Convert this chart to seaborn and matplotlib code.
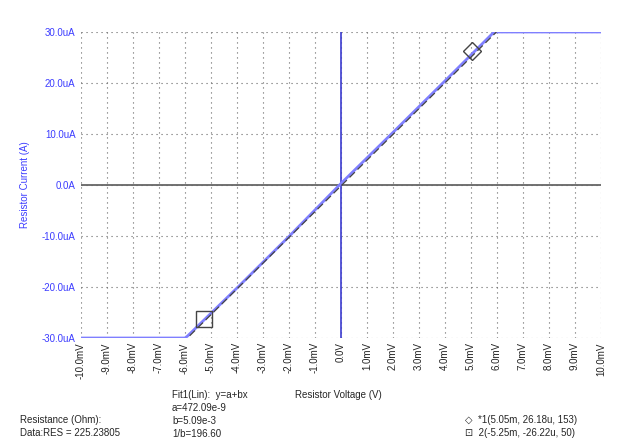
import numpy as np
import pandas as pd
import seaborn as sns
import matplotlib.pyplot as plt

# measured sweep (mV, uA)
volt_mv = [-10.0, -6.0, -5.9, -4.0, -2.0, 0.0, 2.0, 4.0, 5.85, 5.95, 10.0]
curr_ua = [-30.0, -30.0, -29.6, -20.2, -10.1, 0.3, 10.3, 20.4, 29.8, 30.0, 30.0]

# linear fit y = a + b x
fit_a = 472.09e-9
fit_b = 5.09e-3
fit_x_mv = [-5.9, 5.9]

# cursors
cur1 = (5.05, 26.18)
cur2 = (-5.25, -26.22)

xticks = list(range(-10, 11))
yticks = [-30, -20, -10, 0, 10, 20, 30]

sns.set_style("white")
plt.rcParams["font.family"] = ["Liberation Sans", "DejaVu Sans"]

fig = plt.figure(figsize=(6.24, 4.48), dpi=100)
ax = fig.add_axes([0.1298, 0.2455, 0.8332, 0.6831])

for x in xticks:
    ax.axvline(x, color="#666666", lw=0.8, ls=(0, (1, 3.5)), zorder=1)
for y in yticks:
    ax.axhline(y, color="#666666", lw=0.8, ls=(0, (1, 3.5)), zorder=1)
ax.axhline(0, color="#666666", lw=1.3, zorder=2)
ax.axvline(0, color="#3c3cd0", lw=1.2, zorder=2)

df = pd.DataFrame({"V": volt_mv, "I": curr_ua})
sns.lineplot(data=df, x="V", y="I", ax=ax, color="#7f7fff", lw=2.0, zorder=3)

fx = np.array(fit_x_mv)
fy = np.clip((fit_a + fit_b * fx * 1e-3) * 1e6, -30, 30)
ax.plot(fx + 0.08, fy, color="#444444", lw=0.9, ls=(0, (6, 3)), zorder=4)

ax.plot(cur1[0], cur1[1], marker="D", ms=9, mfc="none", mec="#444444", mew=1.0, zorder=5)
ax.plot(cur2[0], cur2[1], marker="s", ms=12, mfc="none", mec="#444444", mew=1.0, zorder=5)

ax.set_xlim(-10, 10)
ax.set_ylim(-30, 30)
ax.set_xticks(xticks)
ax.set_yticks(yticks)
ax.set_xticklabels(["0.0V" if v == 0 else f"{v:.1f}mV" for v in xticks],
                   rotation=90, fontsize=7, color="#222222")
ax.set_yticklabels(["0.0A" if v == 0 else f"{v:.1f}uA" for v in yticks],
                   fontsize=7, color="#3c3cff")
ax.tick_params(axis="y", length=3, width=0.8, color="#3c3cff", pad=1)
ax.tick_params(axis="x", length=0, pad=3)
for s in ax.spines.values():
    s.set_visible(False)
ax.set_xlabel("")
ax.set_ylabel("Resistor Current (A)", fontsize=7, color="#3c3cff", labelpad=8)

fs = 7
fig.text(295 / 624, 1 - 395 / 448, "Resistor Voltage (V)", fontsize=fs, va="center")
fit_lines = ["Fit1(Lin):  y=a+bx", "a=472.09e-9", "b=5.09e-3", "1/b=196.60"]
for i, t in enumerate(fit_lines):
    fig.text(172 / 624, 1 - (395 + 13 * i) / 448, t, fontsize=fs, va="center")
fig.text(20 / 624, 1 - 420 / 448, "Resistance (Ohm):", fontsize=fs, va="center")
fig.text(20 / 624, 1 - 433 / 448, "Data:RES = 225.23805", fontsize=fs, va="center")
fig.text(465 / 624, 1 - 420 / 448, "\u25c7  *1(5.05m, 26.18u, 153)", fontsize=fs, va="center")
fig.text(465 / 624, 1 - 433 / 448, "\u22a1  2(-5.25m, -26.22u, 50)", fontsize=fs, va="center")

fig.savefig("out.png", dpi=100)
